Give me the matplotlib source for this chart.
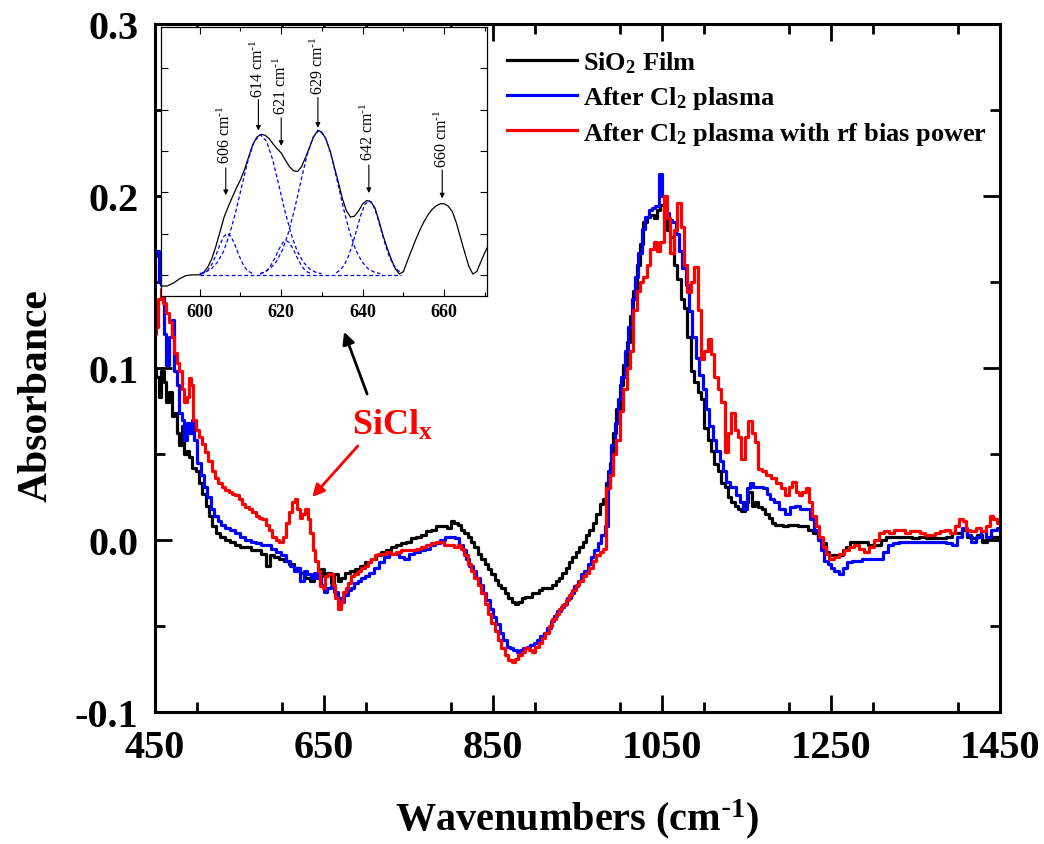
import matplotlib
matplotlib.use("Agg")
import matplotlib.pyplot as plt
from matplotlib.lines import Line2D
from matplotlib.ticker import MultipleLocator, FixedLocator

plt.rcParams['font.family'] = ['Liberation Serif', 'DejaVu Serif']
plt.rcParams['mathtext.default'] = 'regular'

# ---------------- main spectra (wavenumber, absorbance) ----------------
sio2_x = [450, 453, 456, 459, 462, 465, 468, 471, 474, 477, 480, 483, 486, 489, 492, 496, 500, 504, 508, 512,
          516, 520, 524, 530, 536, 542, 548, 554, 560, 566, 572, 578, 584, 588, 594, 600, 606, 612, 618, 624,
          630, 636, 640, 644, 648, 652, 656, 660, 664, 668, 672, 678, 684, 690, 696, 702, 708, 714, 720, 726,
          732, 738, 744, 750, 756, 762, 768, 774, 780, 786, 792, 798, 802, 806, 810, 814, 818, 822, 826, 830,
          834, 838, 842, 846, 850, 854, 858, 862, 866, 870, 874, 878, 882, 886, 890, 894, 898, 902, 906, 910,
          914, 918, 922, 926, 930, 934, 938, 942, 946, 950, 954, 958, 962, 966, 970, 974, 978, 982, 986, 990,
          994, 998, 1002, 1006, 1010, 1014, 1018, 1022, 1026, 1030, 1034, 1038, 1042, 1046, 1050, 1054, 1058,
          1062, 1066, 1070, 1074, 1078, 1082, 1086, 1090, 1094, 1098, 1102, 1106, 1110, 1114, 1118, 1122, 1126,
          1130, 1134, 1138, 1142, 1146, 1150, 1154, 1158, 1162, 1166, 1170, 1174, 1178, 1182, 1186, 1190, 1196,
          1202, 1208, 1214, 1220, 1226, 1232, 1238, 1242, 1246, 1250, 1256, 1262, 1266, 1270, 1276, 1282, 1290,
          1298, 1306, 1312, 1318, 1326, 1334, 1342, 1350, 1358, 1366, 1374, 1382, 1390, 1396, 1402, 1408, 1414,
          1420, 1426, 1432, 1438, 1444, 1450]
sio2_y = [0.100, 0.095, 0.083, 0.098, 0.092, 0.080, 0.086, 0.072, 0.074, 0.062, 0.055, 0.066, 0.050, 0.052,
          0.048, 0.042, 0.040, 0.033, 0.027, 0.020, 0.014, 0.008, 0.004, 0.002, 0.000, -0.001, -0.003, -0.004,
          -0.004, -0.006, -0.006, -0.008, -0.015, -0.009, -0.010, -0.011, -0.012, -0.014, -0.016, -0.019,
          -0.022, -0.024, -0.020, -0.022, -0.017, -0.021, -0.019, -0.025, -0.020, -0.024, -0.022, -0.019,
          -0.018, -0.017, -0.015, -0.013, -0.011, -0.009, -0.007, -0.006, -0.004, -0.003, -0.002, -0.001,
          0.001, 0.002, 0.003, 0.005, 0.006, 0.008, 0.008, 0.007, 0.011, 0.010, 0.009, 0.006, 0.004, 0.002,
          -0.001, -0.004, -0.008, -0.011, -0.014, -0.017, -0.020, -0.023, -0.026, -0.028, -0.031, -0.034,
          -0.036, -0.037, -0.036, -0.034, -0.033, -0.033, -0.031, -0.031, -0.029, -0.028, -0.028, -0.028,
          -0.026, -0.024, -0.022, -0.019, -0.016, -0.013, -0.010, -0.007, -0.004, -0.001, 0.003, 0.006,
          0.010, 0.015, 0.021, 0.024, 0.033, 0.045, 0.062, 0.076, 0.090, 0.102, 0.115, 0.130, 0.145, 0.160,
          0.172, 0.185, 0.188, 0.189, 0.187, 0.192, 0.195, 0.186, 0.180, 0.176, 0.160, 0.152, 0.140, 0.135,
          0.118, 0.098, 0.092, 0.086, 0.082, 0.065, 0.058, 0.052, 0.044, 0.040, 0.033, 0.031, 0.025, 0.022,
          0.020, 0.018, 0.017, 0.022, 0.028, 0.020, 0.022, 0.019, 0.018, 0.015, 0.013, 0.010, 0.009, 0.009,
          0.008, 0.009, 0.009, 0.008, 0.008, 0.006, 0.004, 0.001, -0.002, -0.007, -0.009, -0.009, -0.009,
          -0.006, -0.004, -0.001, -0.001, -0.001, -0.003, -0.003, 0.000, 0.002, 0.002, 0.002, 0.002, 0.001,
          0.002, 0.001, 0.001, 0.001, 0.002, 0.004, 0.004, 0.006, 0.002, 0.001, 0.003, -0.001, 0.001, 0.002,
          0.000]

cl2_x = [450, 453, 456, 459, 462, 465, 468, 471, 474, 477, 480, 483, 486, 489, 492, 495, 498, 502, 506, 510,
         514, 518, 522, 526, 530, 536, 542, 548, 554, 560, 566, 572, 578, 584, 590, 596, 602, 608, 612, 616,
         620, 624, 628, 632, 636, 640, 644, 648, 652, 656, 660, 664, 668, 672, 676, 680, 684, 688, 692, 696,
         700, 706, 712, 718, 724, 730, 736, 742, 748, 754, 760, 766, 772, 778, 784, 790, 796, 802, 808, 812,
         816, 820, 824, 828, 832, 836, 840, 844, 848, 852, 856, 860, 864, 868, 872, 876, 880, 884, 888, 892,
         896, 900, 904, 908, 912, 916, 920, 924, 928, 932, 936, 940, 944, 948, 952, 956, 960, 964, 968, 972,
         976, 980, 984, 988, 992, 996, 1000, 1004, 1008, 1012, 1016, 1020, 1024, 1028, 1032, 1036, 1040, 1044,
         1048, 1052, 1056, 1060, 1064, 1068, 1072, 1076, 1080, 1084, 1088, 1092, 1096, 1100, 1104, 1108, 1112,
         1116, 1120, 1124, 1128, 1132, 1136, 1140, 1144, 1148, 1152, 1156, 1160, 1164, 1168, 1172, 1176, 1180,
         1186, 1192, 1198, 1204, 1210, 1216, 1222, 1228, 1232, 1236, 1240, 1244, 1248, 1252, 1256, 1262, 1266,
         1272, 1278, 1284, 1290, 1296, 1302, 1308, 1314, 1320, 1326, 1334, 1342, 1350, 1358, 1366, 1374, 1382,
         1390, 1396, 1402, 1408, 1414, 1418, 1424, 1430, 1436, 1442, 1450]
cl2_y = [0.165, 0.168, 0.150, 0.148, 0.120, 0.102, 0.118, 0.128, 0.098, 0.090, 0.074, 0.070, 0.058, 0.068,
         0.062, 0.070, 0.058, 0.045, 0.038, 0.031, 0.025, 0.018, 0.014, 0.011, 0.009, 0.007, 0.006, 0.004,
         0.002, 0.000, -0.001, -0.002, -0.003, -0.003, -0.005, -0.007, -0.009, -0.012, -0.015, -0.018,
         -0.016, -0.024, -0.018, -0.020, -0.022, -0.019, -0.022, -0.026, -0.030, -0.028, -0.027, -0.030,
         -0.034, -0.036, -0.032, -0.029, -0.028, -0.025, -0.024, -0.022, -0.021, -0.019, -0.016, -0.013,
         -0.010, -0.008, -0.008, -0.010, -0.011, -0.008, -0.007, -0.006, -0.005, -0.003, -0.002, 0.000,
         0.002, 0.002, 0.001, -0.003, -0.006, -0.011, -0.015, -0.018, -0.022, -0.026, -0.031, -0.035,
         -0.040, -0.045, -0.049, -0.054, -0.058, -0.062, -0.063, -0.064, -0.065, -0.064, -0.063, -0.062,
         -0.061, -0.060, -0.058, -0.056, -0.054, -0.051, -0.047, -0.044, -0.041, -0.039, -0.037, -0.034,
         -0.031, -0.027, -0.024, -0.020, -0.018, -0.014, -0.010, -0.006, -0.002, 0.003, 0.008, 0.040,
         0.055, 0.068, 0.082, 0.095, 0.110, 0.124, 0.140, 0.153, 0.167, 0.181, 0.188, 0.192, 0.193, 0.194,
         0.213, 0.200, 0.190, 0.186, 0.185, 0.178, 0.168, 0.158, 0.148, 0.133, 0.118, 0.106, 0.096, 0.088,
         0.076, 0.066, 0.058, 0.052, 0.046, 0.040, 0.034, 0.031, 0.031, 0.026, 0.022, 0.018, 0.030, 0.033,
         0.031, 0.031, 0.031, 0.030, 0.027, 0.024, 0.022, 0.018, 0.015, 0.019, 0.020, 0.018, 0.018, 0.012,
         0.006, 0.000, -0.006, -0.012, -0.014, -0.016, -0.018, -0.020, -0.016, -0.013, -0.012, -0.012,
         -0.011, -0.011, -0.011, -0.011, -0.007, -0.003, -0.002, -0.001, -0.001, -0.001, -0.001, -0.001,
         -0.001, -0.001, -0.002, -0.003, 0.002, 0.007, 0.003, -0.001, 0.002, 0.005, 0.002, 0.006, 0.007]

bias_x = [450, 452, 455, 458, 461, 464, 468, 471, 474, 477, 480, 483, 486, 489, 491, 494, 497, 500, 503, 507,
          511, 515, 519, 523, 527, 531, 535, 539, 543, 547, 551, 555, 559, 563, 567, 571, 575, 579, 583, 587,
          591, 595, 599, 603, 607, 611, 614, 617, 620, 623, 626, 629, 632, 635, 638, 641, 644, 647, 650, 653,
          656, 659, 662, 665, 668, 671, 674, 677, 680, 684, 688, 692, 696, 700, 704, 708, 712, 716, 720, 726,
          732, 738, 744, 750, 756, 762, 768, 774, 780, 786, 790, 794, 798, 802, 806, 810, 814, 818, 822, 826,
          830, 834, 838, 842, 846, 850, 854, 858, 862, 866, 870, 874, 878, 882, 886, 890, 894, 898, 902, 906,
          910, 914, 918, 922, 926, 930, 934, 938, 942, 946, 950, 954, 958, 962, 966, 970, 974, 978, 982, 986,
          990, 994, 998, 1002, 1006, 1010, 1014, 1018, 1022, 1026, 1030, 1034, 1038, 1042, 1046, 1050, 1054,
          1058, 1062, 1066, 1070, 1074, 1078, 1082, 1086, 1090, 1094, 1098, 1102, 1106, 1110, 1114, 1118, 1122,
          1126, 1130, 1134, 1138, 1142, 1146, 1150, 1154, 1158, 1162, 1166, 1170, 1176, 1182, 1188, 1194, 1198,
          1202, 1206, 1210, 1214, 1218, 1222, 1226, 1230, 1234, 1238, 1242, 1246, 1250, 1256, 1262, 1268, 1274,
          1280, 1286, 1292, 1298, 1304, 1310, 1316, 1322, 1328, 1334, 1340, 1346, 1352, 1358, 1364, 1370, 1376,
          1382, 1388, 1394, 1400, 1404, 1408, 1412, 1418, 1424, 1430, 1436, 1440, 1444, 1448, 1450]
bias_y = [0.120, 0.124, 0.140, 0.146, 0.138, 0.132, 0.127, 0.118, 0.109, 0.103, 0.098, 0.088, 0.080, 0.083,
          0.094, 0.090, 0.070, 0.064, 0.060, 0.056, 0.051, 0.046, 0.040, 0.036, 0.033, 0.031, 0.029, 0.028,
          0.027, 0.026, 0.024, 0.021, 0.019, 0.018, 0.016, 0.014, 0.013, 0.012, 0.009, 0.006, 0.002, 0.000,
          -0.001, 0.002, 0.010, 0.016, 0.022, 0.024, 0.018, 0.013, 0.015, 0.018, 0.012, 0.004, -0.006, -0.012,
          -0.018, -0.027, -0.028, -0.021, -0.020, -0.020, -0.026, -0.034, -0.040, -0.036, -0.030, -0.028,
          -0.025, -0.021, -0.020, -0.018, -0.016, -0.015, -0.013, -0.011, -0.009, -0.008, -0.008, -0.007,
          -0.008, -0.007, -0.006, -0.006, -0.006, -0.005, -0.004, -0.003, -0.002, -0.001, -0.001, -0.003,
          -0.003, -0.003, -0.004, -0.003, -0.005, -0.009, -0.014, -0.018, -0.022, -0.026, -0.031, -0.037,
          -0.043, -0.048, -0.053, -0.058, -0.063, -0.067, -0.070, -0.071, -0.069, -0.067, -0.065, -0.063,
          -0.064, -0.065, -0.062, -0.060, -0.057, -0.054, -0.050, -0.046, -0.043, -0.040, -0.038, -0.035,
          -0.032, -0.029, -0.026, -0.024, -0.021, -0.019, -0.016, -0.012, -0.009, -0.007, -0.005, 0.030,
          0.038, 0.050, 0.058, 0.075, 0.088, 0.100, 0.110, 0.134, 0.145, 0.150, 0.153, 0.160, 0.169, 0.173,
          0.168, 0.173, 0.200, 0.187, 0.167, 0.180, 0.196, 0.182, 0.160, 0.144, 0.150, 0.159, 0.134, 0.105,
          0.110, 0.117, 0.108, 0.095, 0.088, 0.080, 0.051, 0.062, 0.074, 0.064, 0.060, 0.047, 0.060, 0.069,
          0.062, 0.057, 0.041, 0.040, 0.038, 0.036, 0.033, 0.030, 0.026, 0.031, 0.034, 0.028, 0.026, 0.028,
          0.030, 0.022, 0.014, 0.008, 0.002, -0.004, -0.008, -0.011, -0.010, -0.008, -0.006, -0.004, -0.003,
          -0.005, -0.007, -0.004, 0.000, 0.004, 0.005, 0.004, 0.006, 0.006, 0.004, 0.005, 0.005, 0.004, 0.003,
          0.003, 0.004, 0.005, 0.006, 0.004, 0.008, 0.012, 0.011, 0.006, 0.005, 0.007, 0.005, 0.008, 0.014,
          0.012, 0.010, 0.010]

series_labels = ['SiO$_2$ Film', 'After Cl$_2$ plasma', 'After Cl$_2$ plasma with rf bias power']
series_colors = ['black', '#0000ff', '#ff0000']

x_ticks = [450, 650, 850, 1050, 1250, 1450]
y_ticks = [-0.1, 0.0, 0.1, 0.2, 0.3]
y_tick_labels = ['-0.1', '0.0', '0.1', '0.2', '0.3']

# ---------------- inset data ----------------
inset_x = [590.5, 592, 593.5, 595, 596.5, 598, 600, 601, 602, 603, 604, 605, 606, 607, 608, 609, 610, 611,
           612, 613, 614, 615, 616, 617, 618, 619, 620, 621, 622, 623, 624, 625, 626, 627, 628, 629, 630, 631,
           632, 633, 634, 635, 636, 637, 638, 639, 640, 641, 642, 643, 644, 645, 646, 647, 648, 649, 650, 651,
           652, 653, 654, 655, 656, 657, 658, 659, 660, 661, 662, 663, 664, 665, 666, 667, 668, 669, 670, 670.5]
inset_y = [-0.27, -0.27, -0.2, -0.1, -0.02, 0.0, 0.0, 0.06, 0.19, 0.4, 0.7, 1.05, 1.4, 1.65, 1.88, 2.1, 2.3,
           2.55, 2.85, 3.15, 3.33, 3.4, 3.38, 3.3, 3.17, 3.05, 2.95, 2.78, 2.62, 2.52, 2.5, 2.62, 2.85, 3.1,
           3.35, 3.5, 3.45, 3.28, 3.0, 2.62, 2.25, 1.85, 1.55, 1.4, 1.42, 1.55, 1.72, 1.8, 1.77, 1.62, 1.3,
           0.95, 0.65, 0.38, 0.15, 0.02, 0.08, 0.35, 0.6, 0.85, 1.08, 1.28, 1.45, 1.58, 1.67, 1.72, 1.72,
           1.66, 1.53, 1.25, 0.9, 0.55, 0.22, 0.02, 0.08, 0.32, 0.55, 0.65]

peak1_x = [600.5, 602, 603, 604, 605, 606, 606.8, 607.6, 608.6, 609.6, 610.6, 611.6, 613.1]
peak1_y = [0.02, 0.11, 0.26, 0.48, 0.74, 0.94, 1.0, 0.94, 0.74, 0.48, 0.26, 0.11, 0.02]
peak2_x = [600, 601.4, 602.9, 604.4, 605.9, 607.4, 608.9, 610.4, 611.9, 613.4, 614.9, 616.4, 617.9, 619.4,
           620.9, 622.4, 623.9, 625.4, 626.9, 628.4, 629.9]
peak2_y = [0.03, 0.065, 0.15, 0.31, 0.58, 1.00, 1.55, 2.18, 2.79, 3.23, 3.39, 3.23, 2.79, 2.18, 1.55, 1.00,
           0.58, 0.31, 0.15, 0.065, 0.03]
peak3_x = [614.9, 616.4, 617.4, 618.4, 619.4, 620.4, 621.2, 622.0, 623.0, 624.0, 625.0, 626.0, 627.5]
peak3_y = [0.02, 0.09, 0.22, 0.40, 0.61, 0.78, 0.83, 0.78, 0.61, 0.40, 0.22, 0.09, 0.02]
peak4_x = [614.8, 615.8, 617.3, 618.8, 620.3, 621.8, 623.3, 624.8, 626.3, 627.8, 629.3, 630.8, 632.3, 633.8,
           635.3, 636.8, 638.3, 639.8, 641.3, 642.8, 644.3]
peak4_y = [0.03, 0.067, 0.15, 0.32, 0.60, 1.03, 1.60, 2.25, 2.88, 3.33, 3.5, 3.33, 2.88, 2.25, 1.60, 1.03,
           0.60, 0.32, 0.15, 0.067, 0.03]
peak5_x = [633.5, 634.5, 635.5, 636.5, 637.5, 638.5, 639.5, 640.5, 641.5, 642.5, 643.5, 644.5, 645.5, 646.5,
           647.5, 648.5, 649.5]
peak5_y = [0.05, 0.12, 0.24, 0.45, 0.74, 1.09, 1.44, 1.70, 1.8, 1.70, 1.44, 1.09, 0.74, 0.45, 0.24, 0.12, 0.05]
base_x = [600, 649.5]
base_y = [0.0, 0.0]

peak_labels = ['606', '614', '621', '629', '642', '660']
peak_arrow_x = [606.4, 614.4, 620.0, 629.0, 641.5, 659.5]
peak_arrow_top = [2.59, 4.24, 3.80, 4.29, 2.66, 2.54]
peak_arrow_tip = [1.93, 3.49, 3.12, 3.56, 1.98, 1.85]
peak_text_bottom = [2.70, 4.30, 3.90, 4.38, 2.78, 2.62]

# ---------------- figure ----------------
fig = plt.figure(figsize=(10.44, 8.45), dpi=100)
ax = fig.add_axes([0.1485, 0.1562, 0.8094, 0.8142])

for xs, ys, c, lab in zip([sio2_x, cl2_x, bias_x], [sio2_y, cl2_y, bias_y], series_colors, series_labels):
    ax.plot(xs, ys, color=c, lw=2.3, drawstyle='steps-mid', label=lab)

ax.set_xlim(450, 1450)
ax.set_ylim(-0.1, 0.3)
ax.xaxis.set_major_locator(FixedLocator(x_ticks))
ax.xaxis.set_minor_locator(MultipleLocator(100))
ax.yaxis.set_major_locator(FixedLocator(y_ticks))
ax.set_yticklabels(y_tick_labels)
ax.yaxis.set_minor_locator(MultipleLocator(0.05))
ax.tick_params(which='both', direction='in', top=True, right=True, width=2)
ax.tick_params(which='major', length=12, labelsize=29, pad=12)
ax.tick_params(which='minor', length=7)
for lbl in ax.get_xticklabels() + ax.get_yticklabels():
    lbl.set_fontweight('bold')
for sp in ax.spines.values():
    sp.set_linewidth(2.2)

ax.set_xlabel(r'Wavenumbers (cm$^{\text{-}1}$)', fontsize=29, fontweight='bold', labelpad=22)
ax.set_ylabel('Absorbance', fontsize=30, fontweight='bold')
ax.yaxis.set_label_coords(-0.118, 0.462)

handles = [Line2D([], [], color=c, lw=2.3) for c in series_colors]
fig.legend(handles, series_labels, loc='upper left', bbox_to_anchor=(0.486, 0.94),
           frameon=False, prop={'size': 19, 'weight': 'bold'}, handlelength=2.65,
           handletextpad=0.2, labelspacing=0.33, borderpad=0, borderaxespad=0)

# SiClx annotation
ax.text(683, 0.0616, 'SiCl$_x$', color='#ff0000', fontsize=26, fontweight='bold', ha='left', va='baseline')
ax.annotate('', xy=(636, 0.025), xytext=(690, 0.0547),
            arrowprops=dict(arrowstyle='-|>', color='#ff0000', lw=2, mutation_scale=18, shrinkA=0, shrinkB=0))
ax.annotate('', xy=(673.7, 0.121), xytext=(701, 0.0849),
            arrowprops=dict(arrowstyle='-|>', color='black', lw=2, mutation_scale=18, shrinkA=0, shrinkB=0))

# ---------------- inset ----------------
axi = fig.add_axes([0.1542, 0.6485, 0.3123, 0.3185])
axi.plot(inset_x, inset_y, color='black', lw=0.9)
for px_, py_ in [(peak1_x, peak1_y), (peak2_x, peak2_y), (peak3_x, peak3_y), (peak4_x, peak4_y),
                 (peak5_x, peak5_y), (base_x, base_y)]:
    axi.plot(px_, py_, color='#0000ff', lw=0.9, ls=(0, (3, 2)))
axi.set_xlim(590.5, 670.5)
axi.set_ylim(-0.512, 6.0)
axi.xaxis.set_major_locator(FixedLocator([600, 620, 640, 660]))
axi.xaxis.set_minor_locator(MultipleLocator(10))
axi.yaxis.set_major_locator(FixedLocator([0, 1, 2, 3, 4, 5]))
axi.set_yticklabels([])
axi.tick_params(which='both', direction='in', top=True, right=True, width=0.8)
axi.tick_params(which='major', length=5, labelsize=13, pad=5)
axi.tick_params(which='minor', length=3)
for lbl in axi.get_xticklabels():
    lbl.set_fontweight('bold')
for sp in axi.spines.values():
    sp.set_linewidth(0.9)

for lab, xa, ytop, ytip, ytxt in zip(peak_labels, peak_arrow_x, peak_arrow_top, peak_arrow_tip, peak_text_bottom):
    axi.annotate('', xy=(xa, ytip), xytext=(xa, ytop),
                 arrowprops=dict(arrowstyle='-|>', color='black', lw=0.8, mutation_scale=7, shrinkA=0, shrinkB=0))
    axi.text(xa, ytxt, lab + r' cm$^{\text{-}1}$', rotation=90, ha='center', va='bottom', fontsize=11.5)

fig.savefig('out.png', dpi=100)
